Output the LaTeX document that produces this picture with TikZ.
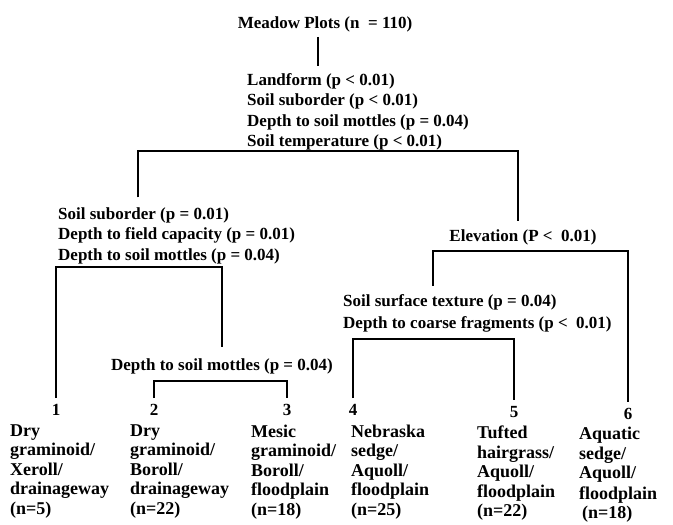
\documentclass[tikz,border=0pt]{standalone}
\usepackage{fontspec}
\setmainfont{Liberation Serif}
\begin{document}
\begin{tikzpicture}[x=1pt, y=-1pt,
    lab/.style={font=\bfseries\fontsize{17}{20.5}\selectfont, inner sep=0pt, align=left},
    leaf/.style={font=\bfseries\fontsize{18}{19.5}\selectfont, inner sep=0pt, align=left, anchor=north west},
    num/.style={font=\bfseries\fontsize{17}{17}\selectfont, inner sep=0pt},
    branch/.style={line width=2pt}]
    \useasboundingbox (0,0) rectangle (673,525);

    % 标题和分裂条件
    \node[lab, anchor=base] (T) at (325,28) {Meadow Plots (n\ \ = 110)};
    \node[lab, anchor=north west] (S1) at (247,73.3) {Landform (p < 0.01)\\Soil suborder (p < 0.01)\\Depth to soil mottles (p = 0.04)\\Soil temperature (p < 0.01)};
    \node[lab, anchor=north west] (S2) at (58,207.3) {Soil suborder (p = 0.01)\\Depth to field capacity (p = 0.01)\\Depth to soil mottles (p = 0.04)};
    \node[lab, anchor=base] (E) at (523,241) {Elevation (P <\ \ 0.01)};
    \node[lab, anchor=north west] (S4) at (343,294.5) {Soil surface texture (p = 0.04)\\[1.5pt]Depth to coarse fragments (p <\ \ 0.01)};
    \node[lab, anchor=base] (S3) at (222,370) {Depth to soil mottles (p = 0.04)};

    % 编号
    \node[num] (N1) at (56,410) {1};
    \node[num] (N2) at (154,410) {2};
    \node[num] (N3) at (287,410) {3};
    \node[num] (N4) at (353,410) {4};
    \node[num] (N5) at (514,412) {5};
    \node[num] (N6) at (628,414) {6};

    % 群落类型
    \node[leaf] (L1) at (10,424.5) {Dry\\graminoid/\\Xeroll/\\drainageway\\(n=5)};
    \node[leaf] (L2) at (130,424.5) {Dry\\graminoid/\\Boroll/\\drainageway\\(n=22)};
    \node[leaf] (L3) at (251,424.5) {Mesic\\graminoid/\\Boroll/\\floodplain\\(n=18)};
    \node[leaf] (L4) at (351,424.5) {Nebraska\\sedge/\\Aquoll/\\floodplain\\(n=25)};
    \node[leaf] (L5) at (477,426) {Tufted\\hairgrass/\\Aquoll/\\floodplain\\(n=22)};
    \node[leaf] (L6) at (579,427) {Aquatic\\sedge/\\Aquoll/\\[1pt]floodplain\\\hspace{3pt}(n=18)};

    % 横线位置
    \coordinate (st) at (318,66);
    \coordinate (h1a) at (138,151);
    \coordinate (h1b) at (518,151);
    \coordinate (h2) at (140,267);
    \coordinate (h5a) at (433,251);
    \coordinate (h5) at (530,251);
    \coordinate (h4) at (430,339);
    \coordinate (h3) at (220,381);

    % 树枝
    \draw[branch, shorten <=5pt] (T.south -| st) -- (st);
    \draw[branch, shorten <=10pt, shorten >=8pt] (h1a |- S2.north) -- (h1a) -- (h1b) -- (h1b |- E.north);
    \draw[branch, shorten <=6pt, shorten >=11pt] (N1.north) |- (h2) -| (S3.north);
    \draw[branch, shorten <=9pt, shorten >=6pt] (h5a |- S4.north) |- (h5) -| (N6.north);
    \draw[branch, shorten <=6pt, shorten >=6pt] (N4.north) |- (h4) -| (N5.north);
    \draw[branch, shorten <=6pt, shorten >=6pt] (N2.north) |- (h3) -| (N3.north);
\end{tikzpicture}
\end{document}
